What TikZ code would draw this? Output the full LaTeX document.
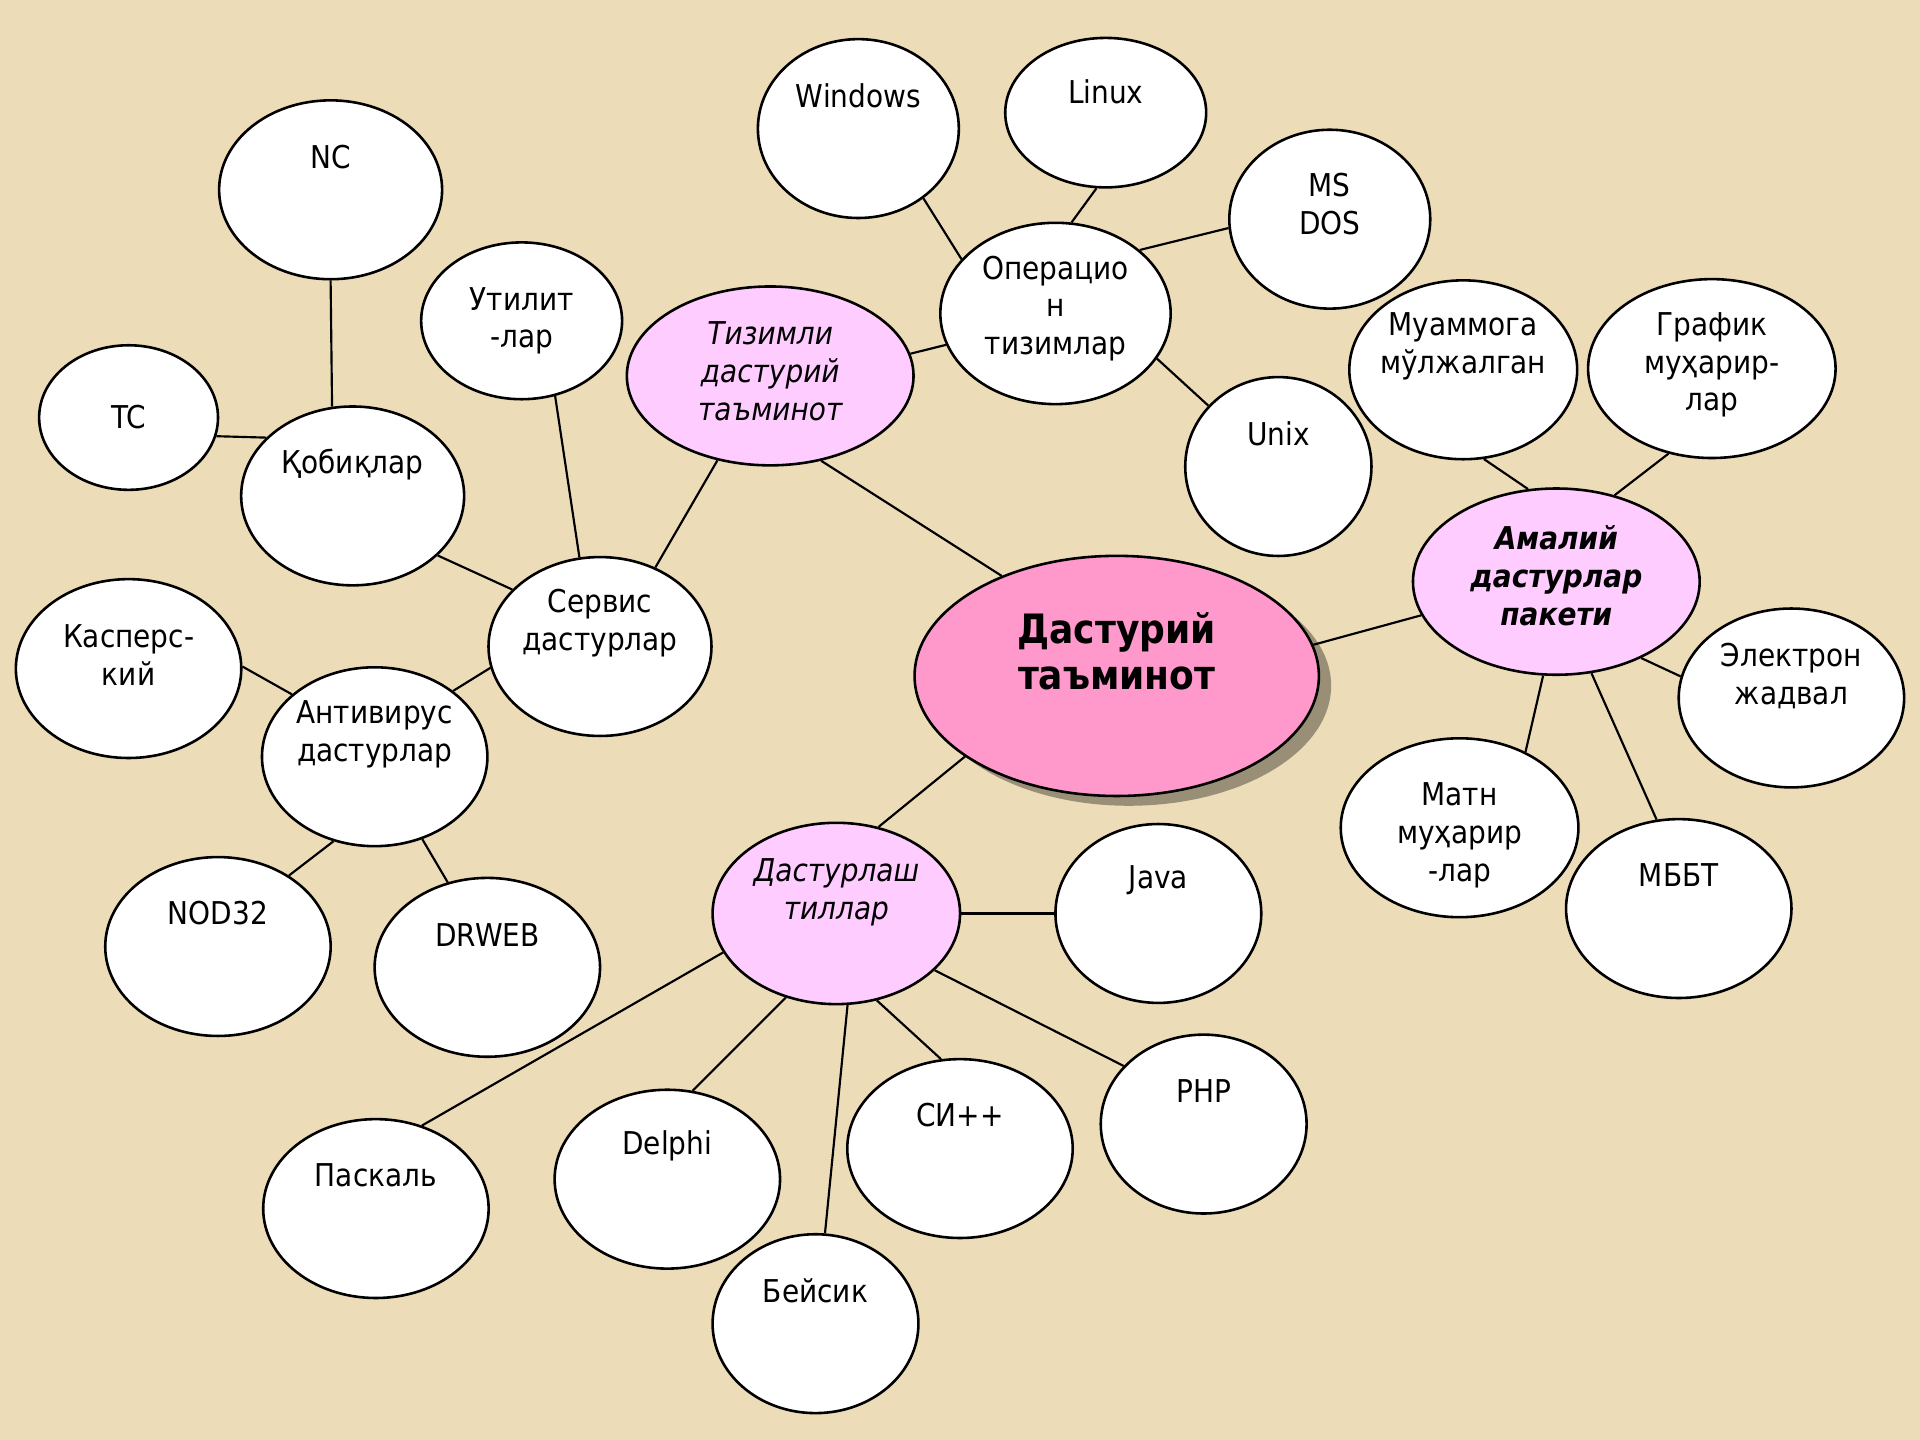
\documentclass[tikz,border=0pt]{standalone}
\usepackage{fontspec}
\setmainfont{DejaVu Sans}[FakeStretch=0.89,
  BoldFont={DejaVu Sans Bold},
  ItalicFont={DejaVu Sans Oblique},
  BoldItalicFont={DejaVu Sans Bold Oblique}]
\usepackage{tikz}
\usetikzlibrary{shapes.geometric, shadows}
\definecolor{paper}{RGB}{236,220,184}
\definecolor{rose}{RGB}{255,153,204}
\definecolor{lilac}{RGB}{255,204,255}
\tikzset{
  bub/.style={ellipse, draw=black, line width=0.6pt, fill=white, inner sep=0pt,
    minimum width=1.84cm, minimum height=1.46cm},
  sub/.style={bub, fill=lilac},
  txt/.style={font=\fontsize{7.3}{8.8}\selectfont, align=center, anchor=center},
  subtxt/.style={txt, font=\fontsize{7.3}{8.8}\selectfont\itshape},
  maintxt/.style={txt, font=\fontsize{9.4}{10.8}\selectfont\bfseries}
}
\tikzstyle{link} = [line width=0.5pt, black]

\begin{document}
\begin{tikzpicture}[x=0.01cm, y=-0.01cm]
    \fill [paper] (0,0) rectangle (1568,1176);
    % centre
    \node [bub, fill=rose, minimum width=3.30cm, minimum height=1.96cm,
      drop shadow={shadow xshift=0.1cm, shadow yshift=-0.08cm, fill=black, opacity=0.35},
      label={[maintxt, yshift=0.20cm]center:Дастурий\\таъминот}] (main) at (912,552) {};
    % system software
    \node [sub, minimum width=2.34cm, label={[subtxt, yshift=0.04cm]center:Тизимли\\дастурий\\таъминот}] (tizim) at (629,307) {};
    \node [bub, minimum width=1.88cm, minimum height=1.48cm, label={[txt, yshift=0.04cm]center:Операцио\\н\\тизимлар}] (oper) at (862,256) {};
    \node [bub, minimum width=1.64cm, label={[txt, yshift=0.27cm]center:Windows}] (win) at (701,105) {};
    \node [bub, minimum width=1.64cm, minimum height=1.22cm, label={[txt, yshift=0.17cm]center:Linux}] (linux) at (903,92) {};
    \node [bub, minimum width=1.64cm, label={[txt, yshift=0.12cm]center:MS\\DOS}] (msdos) at (1086,179) {};
    \node [bub, minimum width=1.52cm, label={[txt, yshift=0.27cm]center:Unix}] (unix) at (1044,381) {};
    % service programs
    \node [bub, minimum width=1.82cm, label={[txt, yshift=0.19cm]center:Сервис\\дастурлар}] (servis) at (490,528) {};
    \node [bub, minimum width=1.64cm, minimum height=1.28cm, label={[txt]center:Утилит\\-лар}] (util) at (426,262) {};
    \node [bub, minimum width=1.82cm, label={[txt, yshift=0.26cm]center:Қобиқлар}] (qob) at (288,405) {};
    \node [bub, minimum width=1.82cm, label={[txt, yshift=0.27cm]center:NC}] (nc) at (270,155) {};
    \node [bub, minimum width=1.46cm, minimum height=1.18cm, label={[txt]center:TC}] (tc) at (105,341) {};
    \node [bub, label={[txt, yshift=0.18cm]center:Антивирус\\дастурлар}] (anti) at (306,618) {};
    \node [bub, label={[txt, yshift=0.11cm]center:Касперс-\\кий}] (kasp) at (105,546) {};
    \node [bub, label={[txt, yshift=0.27cm]center:NOD32}] (nod) at (178,773) {};
    \node [bub, label={[txt, yshift=0.26cm]center:DRWEB}] (drweb) at (398,790) {};
    % programming languages
    \node [sub, minimum width=2.02cm, minimum height=1.48cm, label={[subtxt, yshift=0.17cm]center:Дастурлаш\\тиллар}] (tillar) at (683,746) {};
    \node [bub, minimum width=1.68cm, label={[txt, yshift=0.27cm]center:Java}] (java) at (946,746) {};
    \node [bub, minimum width=1.68cm, label={[txt, yshift=0.27cm]center:PHP}] (php) at (983,918) {};
    \node [bub, label={[txt, yshift=0.27cm]center:СИ++}] (cpp) at (784,938) {};
    \node [bub, label={[txt, yshift=0.27cm]center:Delphi}] (delphi) at (545,963) {};
    \node [bub, label={[txt, yshift=0.27cm]center:Паскаль}] (pascal) at (307,987) {};
    \node [bub, minimum width=1.68cm, label={[txt, yshift=0.27cm]center:Бейсик}] (basic) at (666,1081) {};
    % application packages
    \node [sub, minimum width=2.34cm, minimum height=1.52cm,
      label={[subtxt, font=\fontsize{7.3}{8.8}\selectfont\bfseries\itshape, yshift=0.05cm]center:Амалий\\дастурлар\\пакети}] (amal) at (1271,475) {};
    \node [bub, minimum width=1.86cm, label={[txt, yshift=0.19cm]center:Муаммога\\мўлжалган}] (muam) at (1195,302) {};
    \node [bub, minimum width=2.02cm, label={[txt, yshift=0.03cm]center:График\\муҳарир-\\лар}] (graf) at (1398,301) {};
    \node [bub, label={[txt, yshift=0.18cm]center:Электрон\\жадвал}] (elek) at (1463,570) {};
    \node [bub, minimum width=1.94cm, label={[txt, yshift=-0.06cm]center:Матн\\муҳарир\\-лар}] (matn) at (1192,676) {};
    \node [bub, label={[txt, yshift=0.27cm]center:МББТ}] (mbbt) at (1371,742) {};

    \draw [link] (win.-47) -- (oper.150);
    \draw [link] (linux.-97) -- (oper.80);
    \draw [link] (msdos.185) -- (oper.37);
    \draw [link] (unix.139) -- (oper.-24);
    \draw [link] (tizim.9) -- (oper.196);
    \draw [link] (tizim.-59) -- (main.139);
    \draw [link] (tizim.-122) -- (servis.55);
    \draw [link] (util.-66) -- (servis.103);
    \draw [link] (nc.-90) -- (qob.103);
    \draw [link] (tc.-12) -- (qob.146);
    \draw [link] (qob.-35) -- (servis.147);
    \draw [link] (servis.191) -- (anti.40);
    \draw [link] (kasp.1) -- (anti.143);
    \draw [link] (anti.-116) -- (nod.45);
    \draw [link] (anti.-60) -- (drweb.115);
    \draw [link] (main.208) -- (tillar.64);
    \draw [link] (tillar.0) -- (java.180);
    \draw [link] (tillar.-30) -- (php.144);
    \draw [link] (tillar.-65) -- (cpp.102);
    \draw [link] (tillar.-83) -- (basic.84);
    \draw [link] (tillar.-121) -- (delphi.74);
    \draw [link] (tillar.-161) -- (pascal.61);
    \draw [link] (main.9) -- (amal.194);
    \draw [link] (muam.-77) -- (amal.107);
    \draw [link] (graf.-117) -- (amal.56);
    \draw [link] (amal.-42) -- (elek.169);
    \draw [link] (amal.-98) -- (matn.49);
    \draw [link] (amal.-69) -- (mbbt.104);
\end{tikzpicture}
\end{document}
